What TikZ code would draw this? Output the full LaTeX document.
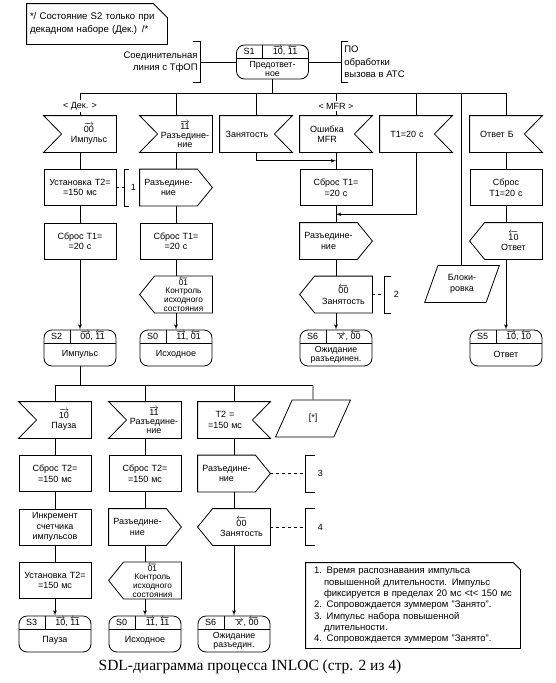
\documentclass[tikz,border=0pt]{standalone}
\usepackage{fontspec}
\setmainfont{Liberation Sans}
\newfontfamily\capfont{Liberation Serif}
\usetikzlibrary{arrows, positioning, shapes.geometric, calc}

\newcommand{\sigr}[1]{$\overrightarrow{\mbox{#1}}$}
\newcommand{\sigl}[1]{$\overleftarrow{\mbox{#1}}$}
\newcommand{\sdlfont}{\fontsize{9}{10.5}\selectfont}

\begin{document}
\begin{tikzpicture}[x=1pt, y=1pt, line width=0.8pt, node distance=53.5pt,
  sdlbox/.style={font=\sdlfont, align=center, text width=70pt, inner sep=1pt, minimum height=36pt},
  task/.style={sdlbox, draw},
  inpl/.style={sdlbox, execute at begin node={\advance\leftskip by 18pt},
    append after command={\pgfextra{\draw (\tikzlastnode.north west) -- (\tikzlastnode.north east) -- (\tikzlastnode.south east) -- (\tikzlastnode.south west) -- ([xshift=18pt]\tikzlastnode.west) -- cycle;}}},
  inpr/.style={sdlbox, execute at begin node={\advance\rightskip by 18pt},
    append after command={\pgfextra{\draw (\tikzlastnode.north west) -- (\tikzlastnode.north east) -- ([xshift=-18pt]\tikzlastnode.east) -- (\tikzlastnode.south east) -- (\tikzlastnode.south west) -- cycle;}}},
  outr/.style={sdlbox, execute at begin node={\advance\rightskip by 15pt},
    append after command={\pgfextra{\draw (\tikzlastnode.north west) -- ([xshift=-15pt]\tikzlastnode.north east) -- (\tikzlastnode.east) -- ([xshift=-15pt]\tikzlastnode.south east) -- (\tikzlastnode.south west) -- cycle;}}},
  outl/.style={sdlbox, execute at begin node={\advance\leftskip by 15pt},
    append after command={\pgfextra{\draw ([xshift=15pt]\tikzlastnode.north west) -- (\tikzlastnode.north east) -- (\tikzlastnode.south east) -- ([xshift=15pt]\tikzlastnode.south west) -- (\tikzlastnode.west) -- cycle;}}},
  para/.style={draw, font=\sdlfont, align=center, inner sep=1pt, trapezium, trapezium left angle=68, trapezium right angle=112, trapezium stretches=true, minimum width=75pt, minimum height=37pt},
  sdlstate/.style={draw, rounded corners=8pt, minimum width=72pt, minimum height=36pt, inner sep=0pt,
    path picture={
      \draw ([yshift=-13pt]path picture bounding box.north west) -- ([yshift=-13pt]path picture bounding box.north east);
      \draw ([xshift=26pt]path picture bounding box.north west) -- ++(0,-13pt);}},
  txt/.style={font=\sdlfont, inner sep=0pt, align=center},
  txt2/.style={font=\fontsize{8.8}{9}\selectfont, inner sep=0pt, align=center},
  brk/.style={font=\sdlfont, minimum height=36pt, inner sep=0pt, anchor=west},
]
\useasboundingbox (0,0) rectangle (556,-683);

% comment and start state
\node [font=\fontsize{9.6}{13}\selectfont, align=left, text width=134pt, minimum height=40pt, inner xsep=3pt] (dek) at (97,-24) {*/ Состояние S2 только при\\декадном наборе (Дек.) /*};
\draw (dek.north west) -- ([xshift=-14pt]dek.north east) -- ([yshift=-14pt]dek.north east) -- (dek.south east) -- (dek.south west) -- cycle;

\node [sdlstate, minimum height=34pt] (s1) at (272.5,-62) {};
\node [txt] (s1a) at ([shift={(13pt,-6.5pt)}]s1.north west) {S1};
\node [txt] (s1b) at ([shift={(49pt,-6.5pt)}]s1.north west) {\sigr{10}, \sigl{11}};
\node [txt2] (s1c) at ([yshift=-7pt]s1.center) {Предответ-\\ное};

\node [font=\fontsize{9.5}{12.5}\selectfont, align=right, minimum height=40pt, inner sep=2pt, anchor=east] (tfop) at (200,-62) {Соединительная\\линия с ТфОП};
\draw ([xshift=-7pt]tfop.north east) -- (tfop.north east) -- (tfop.south east) -- ([xshift=-7pt]tfop.south east);
\node [font=\fontsize{9.5}{12.5}\selectfont, align=left, minimum height=40pt, inner sep=3pt, anchor=west] (po) at (341,-62) {ПО\\обработки\\вызова в АТС};
\draw ([xshift=7pt]po.north west) -- (po.north west) -- (po.south west) -- ([xshift=7pt]po.south west);
\path [draw] (tfop) edge (s1);
\path [draw] (s1) edge (po);

% inputs after S1
\node [inpl] (i1) at (80,-134) {\sigr{00}\\Импульс};
\node [inpl, font=\fontsize{9}{9}\selectfont] (i2) at (176,-134) {\sigr{11}\\Разъедине-\\ние};
\node [inpr] (i3) at (256,-134) {Занятость};
\node [inpr] (i4) at (336,-134) {Ошибка\\MFR};
\node [inpr] (i5) at (416,-134) {T1=20 с};
\node [inpr] (i6) at (506,-134) {Ответ Б};
\node [para] (blk) at (462,-284) {Блоки-\\ровка};

\coordinate (br0) at (272.5,-93);
\coordinate (bl) at (461,-93);
\node [txt, inner sep=1.5pt] (dek2) at (80,-106) {< Дек. >};
\node [txt, inner sep=1.5pt] (mfr) at (336,-106) {< MFR >};
\path [draw] (s1) edge (br0);
\path [draw] (i1 |- br0) edge (i6 |- br0);
\path [draw] (i1 |- br0) edge (dek2);
\path [draw] (dek2) edge (i1);
\path [draw] (i2 |- br0) edge (i2);
\path [draw] (i3 |- br0) edge (i3);
\path [draw] (i4 |- br0) edge (mfr);
\path [draw] (mfr) edge (i4);
\path [draw] (i5 |- br0) edge (i5);
\path [draw] (i6 |- br0) edge (i6);
\path [draw] (bl) edge (bl |- blk.north);

% column 1
\node [task, below of=i1] (t11) {Установка T2=\\=150 мс};
\node [task, below of=t11] (t12) {Сброс T1=\\=20 с};
\node [sdlstate, below of=t12, yshift=-53.5pt] (s2) {};
\node [txt] (s2a) at ([shift={(13pt,-6.5pt)}]s2.north west) {S2};
\node [txt] (s2b) at ([shift={(49pt,-6.5pt)}]s2.north west) {\sigr{00}, \sigl{11}};
\node [txt] (s2c) at ([yshift=-6.5pt]s2.center) {Импульс};
\node [brk, inner xsep=6pt] (b1) at ([xshift=8pt]t11.east) {1};
\draw ([xshift=5pt]b1.north west) -- (b1.north west) -- (b1.south west) -- ([xshift=5pt]b1.south west);
\path [draw] (i1) edge (t11);
\path [draw] (t11) edge (t12);
\path [draw, -latex'] (t12) edge (s2);
\path [draw, dashed] (t11) edge (b1);

% column 2
\node [outr, below of=i2] (o21) {Разъедине-\\ние};
\node [task, below of=o21] (t21) {Сброс T1=\\=20 с};
\node [outl, font=\fontsize{8.3}{8.8}\selectfont] [below of=t21] (o22) {\sigl{01}\\Контроль\\исходного\\состояния};
\node [sdlstate, below of=o22] (s0) {};
\node [txt] (s0a) at ([shift={(13pt,-6.5pt)}]s0.north west) {S0};
\node [txt] (s0b) at ([shift={(49pt,-6.5pt)}]s0.north west) {\sigr{11}, \sigl{01}};
\node [txt] (s0c) at ([yshift=-6.5pt]s0.center) {Исходное};
\path [draw] (i2) edge (o21);
\path [draw] (o21) edge (t21);
\path [draw] (t21) edge (o22);
\path [draw, -latex'] (o22) edge (s0);

% column 4
\node [task, below of=i4] (t41) {Сброс T1=\\=20 с};
\node [outr, below of=t41] (o41) {Разъедине-\\ние};
\node [outl, below of=o41] (o42) {\sigl{00}\\Занятость};
\node [sdlstate, below of=o42] (s6) {};
\node [txt] (s6a) at ([shift={(13pt,-6.5pt)}]s6.north west) {S6};
\node [txt] (s6b) at ([shift={(49pt,-6.5pt)}]s6.north west) {\sigr{x}, \sigl{00}};
\node [txt2] (s6c) at ([yshift=-7pt]s6.center) {Ожидание\\разъединен.};
\node [brk, inner xsep=9pt] (b2) at ([xshift=12pt]o42.east) {2};
\draw ([xshift=7pt]b2.north west) -- (b2.north west) -- (b2.south west) -- ([xshift=7pt]b2.south west);
\path [draw] (i4) edge (t41);
\path [draw] (t41) edge (o41);
\path [draw] (o41) edge (o42);
\path [draw, -latex'] (o42) edge (s6);
\path [draw, dashed] (o42) edge (b2);
\draw [-latex'] (i3.south) |- ($(i4.south)!.5!(t41.north)$);
\draw [-latex'] (i5.south) |- ($(t41.south)!.5!(o41.north)$);

% column 6
\node [task, below of=i6] (t61) {Сброс\\T1=20 с};
\node [outl, below of=t61] (o61) {\sigl{10}\\Ответ};
\node [sdlstate, below of=o61, yshift=-53.5pt] (s5) {};
\node [txt] (s5a) at ([shift={(13pt,-6.5pt)}]s5.north west) {S5};
\node [txt] (s5b) at ([shift={(49pt,-6.5pt)}]s5.north west) {\sigr{10}, \sigl{10}};
\node [txt] (s5c) at ([yshift=-6.5pt]s5.center) {Ответ};
\path [draw] (i6) edge (t61);
\path [draw] (t61) edge (o61);
\path [draw, -latex'] (o61) edge (s5);

% inputs after S2
\node [inpl] (i7) at (55,-420) {\sigr{10}\\Пауза};
\node [inpl, font=\fontsize{9}{9}\selectfont] (i8) at (145,-420) {\sigr{11}\\Разъедине-\\ние};
\node [inpr] (i9) at (234,-420) {T2 =\\=150 мс};
\node [para] (pz) at (313,-418.5) {[*]};
\coordinate (br1) at ($(s2.south)+(0,-19pt)$);
\path [draw] (s2) edge (br1);
\path [draw] (i7 |- br1) edge (pz |- br1);
\path [draw] (i7 |- br1) edge (i7);
\path [draw] (i8 |- br1) edge (i8);
\path [draw] (i9 |- br1) edge (i9);
\path [draw] (pz |- br1) edge (pz);

% column A
\node [task, below of=i7] (t71) {Сброс T2=\\=150 мс};
\node [task, below of=t71] (t72) {Инкремент\\счетчика\\импульсов};
\node [task, below of=t72] (t73) {Установка T2=\\=150 мс};
\node [sdlstate, below of=t73] (s3) {};
\node [txt] (s3a) at ([shift={(13pt,-6.5pt)}]s3.north west) {S3};
\node [txt] (s3b) at ([shift={(49pt,-6.5pt)}]s3.north west) {\sigr{10}, \sigl{11}};
\node [txt] (s3c) at ([yshift=-6.5pt]s3.center) {Пауза};
\path [draw] (i7) edge (t71);
\path [draw] (t71) edge (t72);
\path [draw] (t72) edge (t73);
\path [draw, -latex'] (t73) edge (s3);

% column B
\node [task, below of=i8] (t81) {Сброс T2=\\=150 мс};
\node [outr, below of=t81] (o81) {Разъедине-\\ние};
\node [outl, font=\fontsize{8.3}{8.8}\selectfont] [below of=o81] (o82) {\sigl{01}\\Контроль\\исходного\\состояния};
\node [sdlstate, below of=o82] (s0x) {};
\node [txt] (s0xa) at ([shift={(13pt,-6.5pt)}]s0x.north west) {S0};
\node [txt] (s0xb) at ([shift={(49pt,-6.5pt)}]s0x.north west) {\sigr{11}, \sigl{11}};
\node [txt] (s0xc) at ([yshift=-6.5pt]s0x.center) {Исходное};
\path [draw] (i8) edge (t81);
\path [draw] (t81) edge (o81);
\path [draw] (o81) edge (o82);
\path [draw, -latex'] (o82) edge (s0x);

% column C
\node [outr, below of=i9] (o91) {Разъедине-\\ние};
\node [outl, below of=o91] (o92) {\sigl{00}\\Занятость};
\node [sdlstate, below of=o92, yshift=-53.5pt] (s6x) {};
\node [txt] (s6xa) at ([shift={(13pt,-6.5pt)}]s6x.north west) {S6};
\node [txt] (s6xb) at ([shift={(49pt,-6.5pt)}]s6x.north west) {\sigr{x}, \sigl{00}};
\node [txt2] (s6xc) at ([yshift=-7pt]s6x.center) {Ожидание\\разъедин.};
\node [brk, inner xsep=12pt] (b3) at ([xshift=35pt]o91.east) {3};
\draw ([xshift=10pt]b3.north west) -- (b3.north west) -- (b3.south west) -- ([xshift=10pt]b3.south west);
\node [brk, inner xsep=12pt] (b4) at ([xshift=35pt]o92.east) {4};
\draw ([xshift=10pt]b4.north west) -- (b4.north west) -- (b4.south west) -- ([xshift=10pt]b4.south west);
\path [draw] (i9) edge (o91);
\path [draw] (o91) edge (o92);
\path [draw, -latex'] (o92) edge (s6x);
\path [draw, dashed] (o91) edge (b3);
\path [draw, dashed] (o92) edge (b4);

% notes
\node [font=\fontsize{9.5}{11.3}\selectfont, align=left, text width=198pt, minimum height=85pt, inner xsep=8pt] (nts) at (413,-605.5) {1. Время распознавания импульса\\\hspace*{10pt}повышенной длительности. Импульс\\\hspace*{10pt}фиксируется в пределах 20 мс <t< 150 мс\\2. Сопровождается зуммером "Занято".\\3. Импульс набора повышенной\\\hspace*{10pt}длительности.\\4. Сопровождается зуммером "Занято".};
\draw (nts.north west) -- ([xshift=-7pt]nts.north east) -- ([yshift=-7pt]nts.north east) -- (nts.south east) -- (nts.south west) -- cycle;

\node [font=\capfont\fontsize{15.5}{17}\selectfont] (cap) at (250,-667) {SDL-диаграмма процесса INLOC (стр. 2 из 4)};

\end{tikzpicture}
\end{document}
